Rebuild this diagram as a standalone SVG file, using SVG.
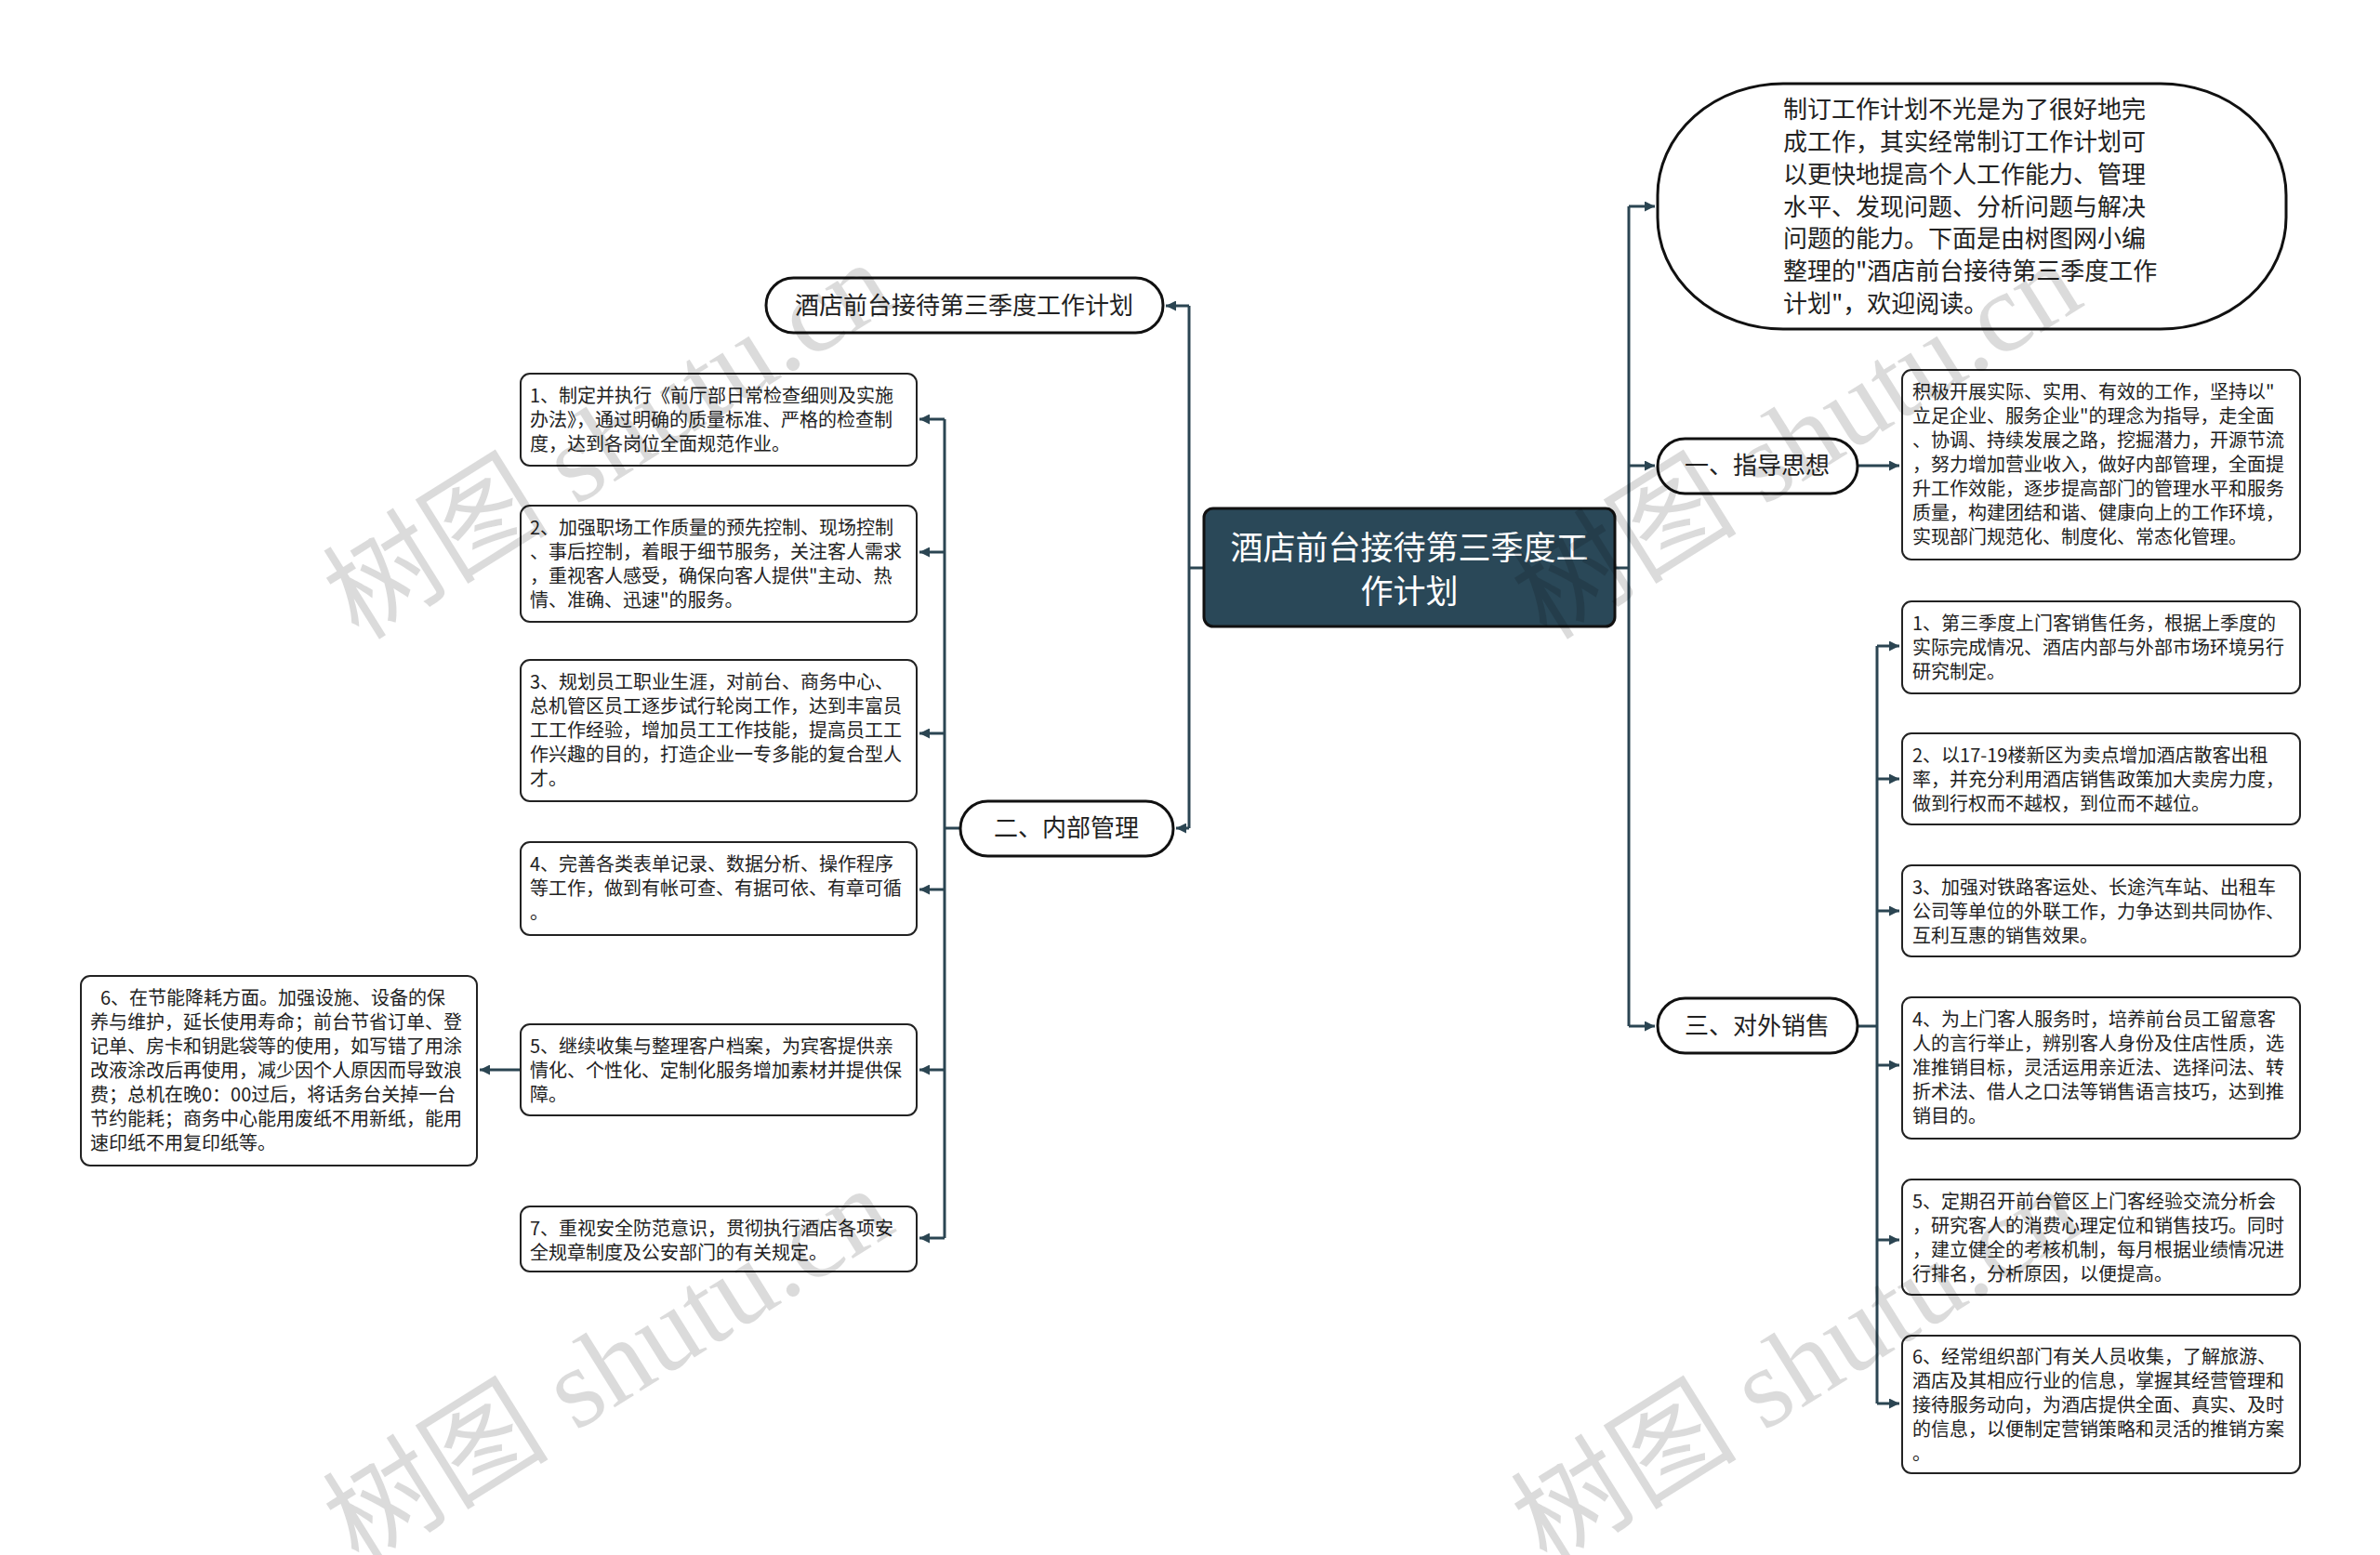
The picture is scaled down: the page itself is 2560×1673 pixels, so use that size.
<svg xmlns="http://www.w3.org/2000/svg" width="2560" height="1673" viewBox="0 0 2560 1673">
<defs>
<style>
.bg{fill:#ffffff}
.conn{fill:none;stroke:#2b4552;stroke-width:3}
.pill{fill:#ffffff;stroke:#111111;stroke-width:3}
.box{fill:#ffffff;stroke:#222222;stroke-width:2}
.root{fill:#2a4858;stroke:#111111;stroke-width:3}
.t26{font-family:"Noto Sans CJK SC","Liberation Sans",sans-serif;font-size:26px;fill:#222222}
.t20{font-family:"Noto Sans CJK SC","Liberation Sans",sans-serif;font-size:20px;fill:#222222}
.troot{font-family:"Noto Sans CJK SC","Liberation Sans",sans-serif;font-size:35px;fill:#ffffff}
.mid{text-anchor:middle}
.wm{font-family:"Liberation Serif","Noto Sans CJK SC",serif;font-size:122px;fill:#000000;fill-opacity:0.14}
</style>
<marker id="ah" viewBox="0 0 10 10" refX="10" refY="5" markerWidth="11" markerHeight="11" markerUnits="userSpaceOnUse" orient="auto">
<path d="M0,0 L10,5 L0,10 z" fill="#2b4552"/>
</marker>
</defs>
<rect class="bg" x="0" y="0" width="2560" height="1673"/>

<g id="connectors">
<path class="conn" d="M1737,611 H1752"/>
<path class="conn" d="M1752,222 V1104"/>
<path class="conn" marker-end="url(#ah)" d="M1752,222 H1780"/>
<path class="conn" marker-end="url(#ah)" d="M1752,501 H1780"/>
<path class="conn" marker-end="url(#ah)" d="M1752,1104 H1780"/>
<path class="conn" marker-end="url(#ah)" d="M1998,501 H2043"/>
<path class="conn" d="M1998,1104 H2019"/>
<path class="conn" d="M2019,695 V1510"/>
<path class="conn" marker-end="url(#ah)" d="M2019,695 H2043"/>
<path class="conn" marker-end="url(#ah)" d="M2019,838 H2043"/>
<path class="conn" marker-end="url(#ah)" d="M2019,980 H2043"/>
<path class="conn" marker-end="url(#ah)" d="M2019,1146 H2043"/>
<path class="conn" marker-end="url(#ah)" d="M2019,1334 H2043"/>
<path class="conn" marker-end="url(#ah)" d="M2019,1510 H2043"/>
<path class="conn" d="M1295,611 H1279"/>
<path class="conn" d="M1279,329 V891"/>
<path class="conn" marker-end="url(#ah)" d="M1279,329 H1254"/>
<path class="conn" marker-end="url(#ah)" d="M1279,891 H1265"/>
<path class="conn" d="M1033,891 H1016"/>
<path class="conn" d="M1016,451 V1332"/>
<path class="conn" marker-end="url(#ah)" d="M1016,451 H989"/>
<path class="conn" marker-end="url(#ah)" d="M1016,594 H989"/>
<path class="conn" marker-end="url(#ah)" d="M1016,789 H989"/>
<path class="conn" marker-end="url(#ah)" d="M1016,957 H989"/>
<path class="conn" marker-end="url(#ah)" d="M1016,1151 H989"/>
<path class="conn" marker-end="url(#ah)" d="M1016,1332 H989"/>
<path class="conn" marker-end="url(#ah)" d="M560,1151 H516"/>
</g>

<g id="root">
<rect class="root" x="1295" y="547" width="442" height="127" rx="10"/>
<text class="troot mid" x="1516" y="602">酒店前台接待第三季度工</text>
<text class="troot mid" x="1516" y="649">作计划</text>
</g>

<g id="intro">
<rect class="pill" x="1783" y="90" width="676" height="264" rx="135" ry="120"/>
<text class="t26" x="1918" y="127">制订工作计划不光是为了很好地完</text>
<text class="t26" x="1918" y="162">成工作，其实经常制订工作计划可</text>
<text class="t26" x="1918" y="197">以更快地提高个人工作能力、管理</text>
<text class="t26" x="1918" y="232">水平、发现问题、分析问题与解决</text>
<text class="t26" x="1918" y="266">问题的能力。下面是由树图网小编</text>
<text class="t26" x="1918" y="301">整理的"酒店前台接待第三季度工作</text>
<text class="t26" x="1918" y="336">计划"，欢迎阅读。</text>
</g>

<g id="n-guide">
<rect class="pill" x="1783" y="472" width="215" height="59" rx="29.5"/>
<text class="t26 mid" x="1890" y="510">一、指导思想</text>
</g>

<g id="n-guide-detail">
<rect class="box" x="2046" y="398" width="428" height="204" rx="10"/>
<text class="t20" x="2057" y="429">积极开展实际、实用、有效的工作，坚持以"</text>
<text class="t20" x="2057" y="455">立足企业、服务企业"的理念为指导，走全面</text>
<text class="t20" x="2057" y="481">、协调、持续发展之路，挖掘潜力，开源节流</text>
<text class="t20" x="2057" y="507">，努力增加营业收入，做好内部管理，全面提</text>
<text class="t20" x="2057" y="533">升工作效能，逐步提高部门的管理水平和服务</text>
<text class="t20" x="2057" y="559">质量，构建团结和谐、健康向上的工作环境，</text>
<text class="t20" x="2057" y="585">实现部门规范化、制度化、常态化管理。</text>
</g>

<g id="n-sales">
<rect class="pill" x="1783" y="1074" width="215" height="59" rx="29.5"/>
<text class="t26 mid" x="1890" y="1113">三、对外销售</text>
</g>

<g id="s1">
<rect class="box" x="2046" y="647" width="428" height="99" rx="10"/>
<text class="t20" x="2057" y="678">1、第三季度上门客销售任务，根据上季度的</text>
<text class="t20" x="2057" y="704">实际完成情况、酒店内部与外部市场环境另行</text>
<text class="t20" x="2057" y="730">研究制定。</text>
</g>
<g id="s2">
<rect class="box" x="2046" y="789" width="428" height="98" rx="10"/>
<text class="t20" x="2057" y="820">2、以17-19楼新区为卖点增加酒店散客出租</text>
<text class="t20" x="2057" y="846">率，并充分利用酒店销售政策加大卖房力度，</text>
<text class="t20" x="2057" y="872">做到行权而不越权，到位而不越位。</text>
</g>
<g id="s3">
<rect class="box" x="2046" y="931" width="428" height="98" rx="10"/>
<text class="t20" x="2057" y="962">3、加强对铁路客运处、长途汽车站、出租车</text>
<text class="t20" x="2057" y="988">公司等单位的外联工作，力争达到共同协作、</text>
<text class="t20" x="2057" y="1014">互利互惠的销售效果。</text>
</g>
<g id="s4">
<rect class="box" x="2046" y="1073" width="428" height="152" rx="10"/>
<text class="t20" x="2057" y="1104">4、为上门客人服务时，培养前台员工留意客</text>
<text class="t20" x="2057" y="1130">人的言行举止，辨别客人身份及住店性质，选</text>
<text class="t20" x="2057" y="1156">准推销目标，灵活运用亲近法、选择问法、转</text>
<text class="t20" x="2057" y="1182">折术法、借人之口法等销售语言技巧，达到推</text>
<text class="t20" x="2057" y="1208">销目的。</text>
</g>
<g id="s5">
<rect class="box" x="2046" y="1269" width="428" height="124" rx="10"/>
<text class="t20" x="2057" y="1300">5、定期召开前台管区上门客经验交流分析会</text>
<text class="t20" x="2057" y="1326">，研究客人的消费心理定位和销售技巧。同时</text>
<text class="t20" x="2057" y="1352">，建立健全的考核机制，每月根据业绩情况进</text>
<text class="t20" x="2057" y="1378">行排名，分析原因，以便提高。</text>
</g>
<g id="s6">
<rect class="box" x="2046" y="1437" width="428" height="148" rx="10"/>
<text class="t20" x="2057" y="1467">6、经常组织部门有关人员收集，了解旅游、</text>
<text class="t20" x="2057" y="1493">酒店及其相应行业的信息，掌握其经营管理和</text>
<text class="t20" x="2057" y="1519">接待服务动向，为酒店提供全面、真实、及时</text>
<text class="t20" x="2057" y="1545">的信息，以便制定营销策略和灵活的推销方案</text>
<text class="t20" x="2057" y="1571">。</text>
</g>

<g id="n-title">
<rect class="pill" x="824" y="299" width="427" height="59" rx="29.5"/>
<text class="t26 mid" x="1037" y="338">酒店前台接待第三季度工作计划</text>
</g>

<g id="n-internal">
<rect class="pill" x="1033" y="862" width="229" height="59" rx="29.5"/>
<text class="t26 mid" x="1147" y="900">二、内部管理</text>
</g>

<g id="i1">
<rect class="box" x="560" y="402" width="426" height="99" rx="10"/>
<text class="t20" x="570" y="433">1、制定并执行《前厅部日常检查细则及实施</text>
<text class="t20" x="570" y="459">办法》，通过明确的质量标准、严格的检查制</text>
<text class="t20" x="570" y="485">度，达到各岗位全面规范作业。</text>
</g>
<g id="i2">
<rect class="box" x="560" y="544" width="426" height="125" rx="10"/>
<text class="t20" x="570" y="575">2、加强职场工作质量的预先控制、现场控制</text>
<text class="t20" x="570" y="601">、事后控制，着眼于细节服务，关注客人需求</text>
<text class="t20" x="570" y="627">，重视客人感受，确保向客人提供"主动、热</text>
<text class="t20" x="570" y="653">情、准确、迅速"的服务。</text>
</g>
<g id="i3">
<rect class="box" x="560" y="710" width="426" height="152" rx="10"/>
<text class="t20" x="570" y="741">3、规划员工职业生涯，对前台、商务中心、</text>
<text class="t20" x="570" y="767">总机管区员工逐步试行轮岗工作，达到丰富员</text>
<text class="t20" x="570" y="793">工工作经验，增加员工工作技能，提高员工工</text>
<text class="t20" x="570" y="819">作兴趣的目的，打造企业一专多能的复合型人</text>
<text class="t20" x="570" y="845">才。</text>
</g>
<g id="i4">
<rect class="box" x="560" y="906" width="426" height="100" rx="10"/>
<text class="t20" x="570" y="937">4、完善各类表单记录、数据分析、操作程序</text>
<text class="t20" x="570" y="963">等工作，做到有帐可查、有据可依、有章可循</text>
<text class="t20" x="570" y="989">。</text>
</g>
<g id="i5">
<rect class="box" x="560" y="1102" width="426" height="98" rx="10"/>
<text class="t20" x="570" y="1133">5、继续收集与整理客户档案，为宾客提供亲</text>
<text class="t20" x="570" y="1159">情化、个性化、定制化服务增加素材并提供保</text>
<text class="t20" x="570" y="1185">障。</text>
</g>
<g id="i6">
<rect class="box" x="87" y="1050" width="426" height="204" rx="10"/>
<text class="t20" x="108" y="1081">6、在节能降耗方面。加强设施、设备的保</text>
<text class="t20" x="97" y="1107">养与维护，延长使用寿命；前台节省订单、登</text>
<text class="t20" x="97" y="1133">记单、房卡和钥匙袋等的使用，如写错了用涂</text>
<text class="t20" x="97" y="1159">改液涂改后再使用，减少因个人原因而导致浪</text>
<text class="t20" x="97" y="1185">费；总机在晚0：00过后，将话务台关掉一台</text>
<text class="t20" x="97" y="1211">节约能耗；商务中心能用废纸不用新纸，能用</text>
<text class="t20" x="97" y="1237">速印纸不用复印纸等。</text>
</g>
<g id="i7">
<rect class="box" x="560" y="1298" width="426" height="70" rx="10"/>
<text class="t20" x="570" y="1329">7、重视安全防范意识，贯彻执行酒店各项安</text>
<text class="t20" x="570" y="1355">全规章制度及公安部门的有关规定。</text>
</g>

<g id="watermark">
<text class="wm" transform="translate(386,690) rotate(-32)">树图 shutu.cn</text>
<text class="wm" transform="translate(1664,690) rotate(-32)">树图 shutu.cn</text>
<text class="wm" transform="translate(386,1686) rotate(-32)">树图 shutu.cn</text>
<text class="wm" transform="translate(1664,1686) rotate(-32)">树图 shutu.cn</text>
</g>
</svg>
